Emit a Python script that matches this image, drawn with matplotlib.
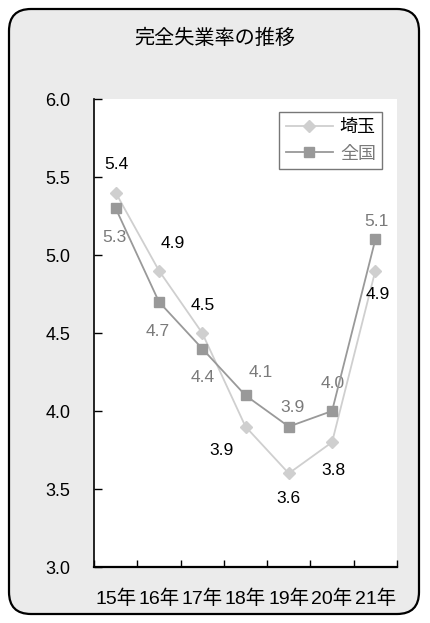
import matplotlib
matplotlib.use("Agg")
import matplotlib.pyplot as plt
from matplotlib.patches import FancyBboxPatch
from matplotlib.lines import Line2D

plt.rcParams['font.family'] = ['Liberation Sans', 'Noto Sans CJK JP', 'DejaVu Sans']

title = "完全失業率の推移"
years = ["15年", "16年", "17年", "18年", "19年", "20年", "21年"]
saitama = [5.4, 4.9, 4.5, 3.9, 3.6, 3.8, 4.9]
zenkoku = [5.3, 4.7, 4.4, 4.1, 3.9, 4.0, 5.1]
series_names = ["埼玉", "全国"]
yticks = [3.0, 3.5, 4.0, 4.5, 5.0, 5.5, 6.0]

# label offsets in pixels (dx, dy) for each point's value text
saitama_off = [(1, 28), (14, 27), (1, 27), (-24, -24), (0, -25), (1, -28), (2, -24)]
zenkoku_off = [(-1, -29), (-1, -30), (0, -29), (15, 23), (4, 19), (1, 28), (1, 18)]

cjk = ['Noto Sans CJK JP', 'DejaVu Sans']
narrow = ['Liberation Sans Narrow', 'Liberation Sans', 'Noto Sans CJK JP', 'DejaVu Sans']

W, H = 430, 623
fig = plt.figure(figsize=(W / 100, H / 100), dpi=100)
fig.patch.set_facecolor("white")

# rounded panel behind everything, drawn in pixel units
bg = fig.add_axes([0, 0, 1, 1])
bg.set_xlim(0, W)
bg.set_ylim(H, 0)
bg.axis("off")
bg.add_patch(FancyBboxPatch((9, 9), 410, 605,
                            boxstyle="round,pad=0,rounding_size=22",
                            facecolor="#ebebeb", edgecolor="black", linewidth=1.6))

fig.text(215 / W, 1 - 38 / H, title, ha="center", va="center", fontsize=14.5,
         color="black", family=cjk)

ax = fig.add_axes([94 / W, 1 - 567 / H, (397 - 94) / W, (567 - 99) / H])
ax.set_facecolor("white")
x = list(range(len(years)))

c_sai = "#cfcfcf"
c_zen = "#999999"
ax.plot(x, saitama, color=c_sai, lw=1.3, marker="D", markersize=6.5,
        markerfacecolor=c_sai, markeredgecolor=c_sai, zorder=3)
ax.plot(x, zenkoku, color=c_zen, lw=1.3, marker="s", markersize=7,
        markerfacecolor=c_zen, markeredgecolor=c_zen, zorder=4)

for xi, v, (dx, dy) in zip(x, saitama, saitama_off):
    ax.annotate(f"{v:.1f}", (xi, v), xytext=(dx, dy), textcoords="offset pixels",
                ha="center", va="center", fontsize=12.5, color="black")
for xi, v, (dx, dy) in zip(x, zenkoku, zenkoku_off):
    ax.annotate(f"{v:.1f}", (xi, v), xytext=(dx, dy), textcoords="offset pixels",
                ha="center", va="center", fontsize=12.5, color="#7a7a7a")

ax.set_xlim(-0.5, len(years) - 0.5)
ax.set_ylim(3.0, 6.0)
ax.set_yticks(yticks)
ax.set_yticklabels([f"{t:.1f}" for t in yticks], fontsize=13)
ax.tick_params(axis="y", direction="in", length=6, width=1, pad=17, colors="black")

# category labels at centres, boundary ticks between categories
ax.set_xticks(x)
ax.set_xticklabels(years, fontsize=14, family=narrow)
ax.tick_params(axis="x", which="major", length=0, pad=16)
ax.set_xticks([i - 0.5 for i in range(len(years) + 1)], minor=True)
ax.tick_params(axis="x", which="minor", direction="in", length=5, width=1)

for s in ["top", "right"]:
    ax.spines[s].set_visible(False)
ax.spines["left"].set_linewidth(1.2)
ax.spines["bottom"].set_linewidth(1.6)

handles = [
    Line2D([], [], color=c_sai, lw=1.3, marker="D", markersize=6.5,
           markerfacecolor=c_sai, markeredgecolor=c_sai),
    Line2D([], [], color=c_zen, lw=1.3, marker="s", markersize=7,
           markerfacecolor=c_zen, markeredgecolor=c_zen),
]
leg = ax.legend(handles, series_names, loc="upper right", bbox_to_anchor=(0.951, 0.972),
                prop={'family': cjk, 'size': 13}, frameon=True, fancybox=False,
                handlelength=2.6, borderpad=0.35, labelspacing=0.45, handletextpad=0.4,
                borderaxespad=0)
leg.get_frame().set_edgecolor("#555555")
leg.get_frame().set_linewidth(1.0)
leg.get_texts()[0].set_color("black")
leg.get_texts()[1].set_color("#7a7a7a")

fig.savefig("out.png", dpi=100, facecolor="white")
